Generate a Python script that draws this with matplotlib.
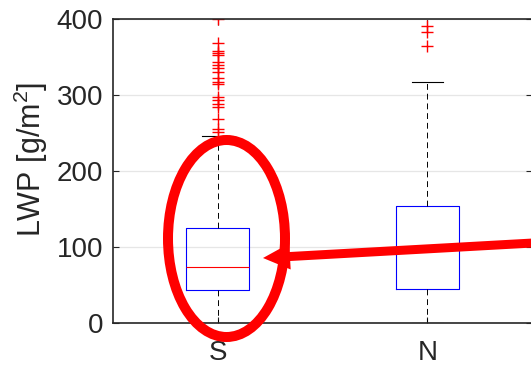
import matplotlib
matplotlib.use("Agg")
import matplotlib.pyplot as plt
from matplotlib.patches import Ellipse, FancyArrow

plt.rcParams['font.family'] = ['Liberation Sans', 'DejaVu Sans']
plt.rcParams['mathtext.default'] = 'regular'

# ---- data ----
categories = ['S', 'N']
q1 = [43.3, 44.6]
median = [73.4, 97.0]
q3 = [124.6, 153.8]
whisker_low = [0.0, 0.0]
whisker_high = [246.6, 316.5]
outliers_S = [400, 368, 358, 355, 353, 343, 340, 336, 330, 322, 317, 314,
              297, 293, 288, 284, 268, 255, 251]
outliers_N = [391, 383, 365]
outliers = [outliers_S, outliers_N]
yticks = [0, 100, 200, 300, 400]

W, H = 531, 367
fig = plt.figure(figsize=(W / 100, H / 100), dpi=100)
ax = fig.add_axes([113 / W, 1 - 323 / H, 419 / W, 304 / H])

stats = []
for i, c in enumerate(categories):
    stats.append(dict(label=c, q1=q1[i], med=median[i], q3=q3[i],
                      whislo=whisker_low[i], whishi=whisker_high[i],
                      fliers=outliers[i]))

ax.bxp(stats, positions=range(1, len(categories) + 1), widths=0.3,
       boxprops=dict(color='#0000ff', linewidth=0.8),
       medianprops=dict(color='#ff0000', linewidth=0.8),
       whiskerprops=dict(color='black', linewidth=0.7, linestyle=(0, (6, 4))),
       capprops=dict(color='black', linewidth=0.8),
       flierprops=dict(marker='+', markeredgecolor='#ff0000', markersize=8,
                       markeredgewidth=1.0, linestyle='none'),
       manage_ticks=False)

ax.set_xlim(0.5, 2.5)
ax.set_ylim(0, 400)
ax.set_yticks(yticks)
ax.set_xticks(range(1, len(categories) + 1))
ax.set_xticklabels(categories)
ax.yaxis.grid(True, color='#e6e6e6', linewidth=0.9)
ax.set_axisbelow(True)
for s in ax.spines.values():
    s.set_color('#262626')
    s.set_linewidth(1.2)
ax.tick_params(axis='both', direction='in', length=4, width=0.8, colors='#262626',
               labelsize=20, top=True, right=True)
ax.tick_params(axis='y', pad=7)
ax.tick_params(axis='x', pad=12)
ax.set_ylabel('LWP [g/m$^2$]', fontsize=22, color='#262626')
ax.yaxis.label.set_va('center')
ax.yaxis.set_label_coords((31 - 113) / 419, (323 - 159) / 304)

# ---- annotation overlay in pixel coordinates ----
ov = fig.add_axes([0, 0, 1, 1], facecolor='none')
ov.set_xlim(0, W)
ov.set_ylim(H, 0)
ov.axis('off')
ov.add_patch(Ellipse((226.5, 238.5), 117, 197, fill=False, edgecolor='#ff0000',
                     linewidth=7.2))
ov.add_patch(FancyArrow(560, 241.5, 263 - 560, 258 - 241.5, width=9,
                        head_width=26, head_length=27, length_includes_head=True,
                        color='#ff0000', linewidth=0))

fig.savefig('out.png', dpi=100)
